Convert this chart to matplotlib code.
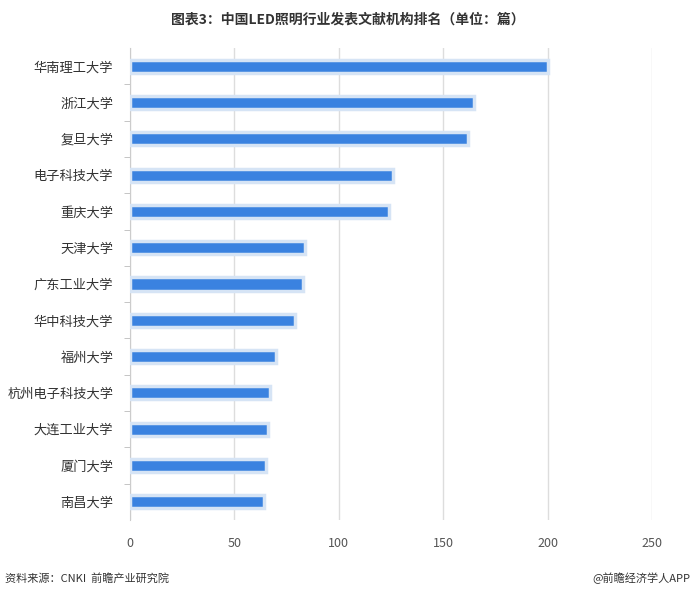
import matplotlib.pyplot as plt

plt.rcParams['font.family'] = ['Noto Sans CJK SC', 'DejaVu Sans']

# --- data ---
institutions = ["华南理工大学", "浙江大学", "复旦大学", "电子科技大学", "重庆大学",
                "天津大学", "广东工业大学", "华中科技大学", "福州大学",
                "杭州电子科技大学", "大连工业大学", "厦门大学", "南昌大学"]
papers = [200, 165, 162, 126, 124, 84, 83, 79, 70, 67, 66, 65, 64]
x_ticks = [0, 50, 100, 150, 200, 250]

BAR_COLOR = "#3a82e0"
EDGE_COLOR = "#d6e4f5"
TEXT_COLOR = "#333333"
GRID_COLOR = "#dddddd"

fig = plt.figure(figsize=(6.95, 6.01), dpi=100)
ax = fig.add_axes([0.187, 0.135, 0.751, 0.785])

ypos = list(range(len(institutions)))
ax.barh(ypos, papers, height=0.36, color=BAR_COLOR,
        edgecolor=EDGE_COLOR, linewidth=2.5, zorder=3)

ax.set_ylim(len(institutions) - 0.5, -0.5)
ax.set_xlim(0, 250)
ax.set_xticks(x_ticks)
ax.set_yticks(ypos)
ax.set_yticklabels(institutions)

# small tick marks at category boundaries on the left spine
ax.set_yticks([i + 0.5 for i in ypos[:-1]], minor=True)
ax.tick_params(axis="y", which="major", length=0, pad=12,
               labelsize=9.5, labelcolor=TEXT_COLOR)
ax.tick_params(axis="y", which="minor", length=4, color="#bbbbbb")
ax.tick_params(axis="x", length=0, pad=12, labelsize=9, labelcolor="#555555")

ax.grid(axis="x", color=GRID_COLOR, linewidth=1, zorder=0)
for side in ["top", "right", "bottom"]:
    ax.spines[side].set_visible(False)
ax.spines["left"].set_color("#cccccc")

fig.text(0.5, 0.968, "图表3：中国LED照明行业发表文献机构排名（单位：篇）",
         ha="center", va="center", fontsize=10, fontweight="bold", color=TEXT_COLOR)
fig.text(0.007, 0.038, "资料来源：CNKI  前瞻产业研究院",
         ha="left", va="center", fontsize=8, color=TEXT_COLOR)
fig.text(0.993, 0.038, "@前瞻经济学人APP",
         ha="right", va="center", fontsize=8, color=TEXT_COLOR)

fig.savefig("out.png", dpi=100, facecolor="white")
